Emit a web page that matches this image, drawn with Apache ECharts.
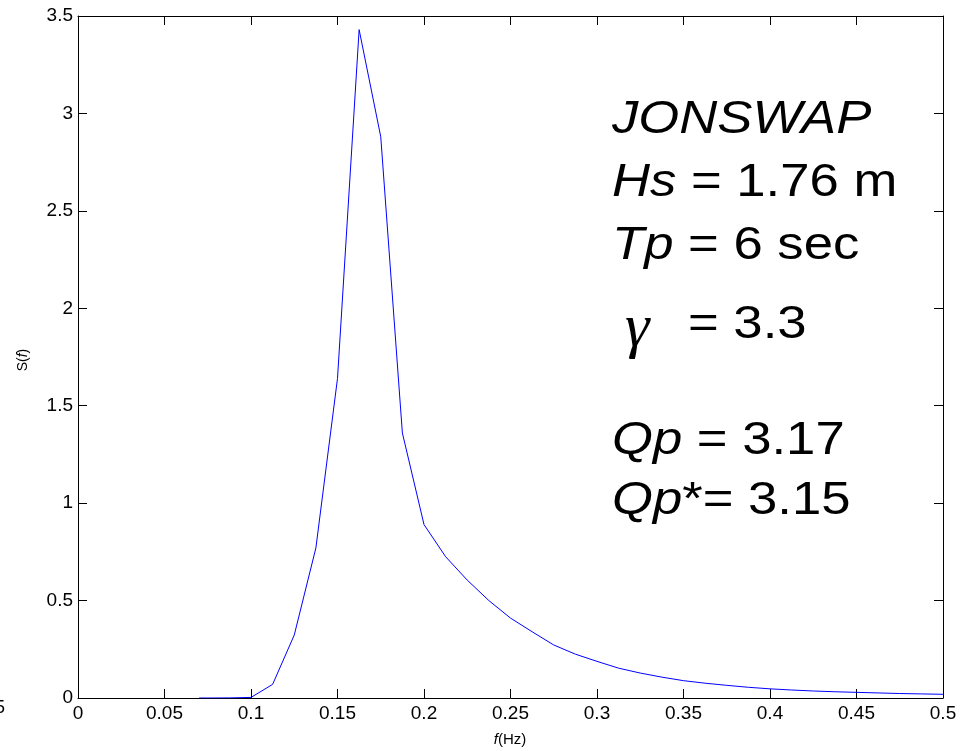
<!DOCTYPE html>
<html>
<head>
<meta charset="utf-8">
<script src="https://cdn.jsdelivr.net/npm/echarts@6/dist/echarts.min.js"></script>
<style>
html,body{margin:0;padding:0;background:#fff;}
#chart{width:971px;height:751px;}
</style>
</head>
<body>
<div id="chart"></div>
<script>
// Frequency (Hz) and spectral density S(f)
const freq = [0.07, 0.075, 0.0875, 0.1, 0.1125, 0.125, 0.1375, 0.15, 0.1625, 0.175, 0.1875, 0.2,
  0.2125, 0.225, 0.2375, 0.25, 0.2625, 0.275, 0.2875, 0.3, 0.3125, 0.325, 0.3375, 0.35,
  0.3625, 0.375, 0.3875, 0.4, 0.4125, 0.425, 0.4375, 0.45, 0.4625, 0.475, 0.4875, 0.5];
const spectrum = [0, 0, 0.0005, 0.003, 0.07, 0.323, 0.77, 1.64, 3.43, 2.88, 1.36, 0.89,
  0.725, 0.605, 0.5, 0.41, 0.34, 0.272, 0.225, 0.188, 0.153, 0.128, 0.107, 0.089,
  0.076, 0.065, 0.055, 0.047, 0.041, 0.036, 0.032, 0.029, 0.026, 0.023, 0.021, 0.019];
const xTicks = {min: 0, max: 0.5, interval: 0.05};
const yTicks = {min: 0, max: 3.5, interval: 0.5};
const annotLines = [
  {text: '{i|JONSWAP}', y: 120},
  {text: '{i|Hs} = 1.76 m', y: 183},
  {text: '{i|Tp} = 6 sec', y: 246},
  {text: '{i|Qp} = 3.17', y: 441},
  {text: '{i|Qp}*= 3.15', y: 501}
];

const FONT = '"Liberation Sans", Arial, sans-serif';
const chart = echarts.init(document.getElementById('chart'), null, {renderer: 'canvas'});
const data = freq.map((f, i) => [f, spectrum[i]]);

const axisLine = {show: true, onZero: false, lineStyle: {color: '#000', width: 1}};
const tick = {show: true, inside: true, length: 9, lineStyle: {color: '#000', width: 1}};
const label = {color: '#000', fontSize: 19, fontFamily: FONT};
const FS = 47, SX = 1.12;

const graphics = annotLines.map(l => ({
  type: 'text', x: 612, y: l.y, scaleX: SX, scaleY: 1,
  style: {
    text: l.text, fill: '#000', font: FS + 'px ' + FONT,
    verticalAlign: 'middle', align: 'left',
    rich: {i: {fontStyle: 'italic', fontSize: FS, fontFamily: FONT, fill: '#000'}}
  }
}));
graphics.push({
  type: 'text', x: 625, y: 330,
  style: {text: 'γ', fill: '#000', font: 'italic 62px "Liberation Serif", "Times New Roman", serif', verticalAlign: 'middle'}
});
graphics.push({
  type: 'text', x: 688, y: 325, scaleX: SX,
  style: {text: '= 3.3', fill: '#000', font: FS + 'px ' + FONT, verticalAlign: 'middle'}
});
graphics.push({
  type: 'text', x: 23, y: 360, rotation: Math.PI / 2,
  style: {text: 'S({i|f})', fill: '#000', font: '14px ' + FONT, align: 'center', verticalAlign: 'middle',
    rich: {i: {fontStyle: 'italic', fontSize: 14, fontFamily: FONT, fill: '#000'}}}
});
graphics.push({
  type: 'text', x: 510, y: 740,
  style: {text: '{i|f}(Hz)', fill: '#000', font: '15px ' + FONT, align: 'center', verticalAlign: 'middle',
    rich: {i: {fontStyle: 'italic', fontSize: 15, fontFamily: FONT, fill: '#000'}}}
});
graphics.push({
  type: 'text', x: -5, y: 708,
  style: {text: '5', fill: '#000', font: '18px ' + FONT, verticalAlign: 'middle'}
});

chart.setOption({
  animation: false,
  backgroundColor: '#fff',
  grid: {left: 78, right: 28, top: 16, bottom: 53, containLabel: false},
  xAxis: [
    {type: 'value', position: 'bottom', min: xTicks.min, max: xTicks.max, interval: xTicks.interval,
      axisLine, axisTick: tick, splitLine: {show: false},
      axisLabel: Object.assign({margin: 6}, label)},
    {type: 'value', position: 'top', min: xTicks.min, max: xTicks.max, interval: xTicks.interval,
      axisLine, axisTick: tick, splitLine: {show: false}, axisLabel: {show: false}}
  ],
  yAxis: [
    {type: 'value', position: 'left', min: yTicks.min, max: yTicks.max, interval: yTicks.interval,
      axisLine, axisTick: tick, splitLine: {show: false},
      axisLabel: Object.assign({margin: 5}, label)},
    {type: 'value', position: 'right', min: yTicks.min, max: yTicks.max, interval: yTicks.interval,
      axisLine, axisTick: tick, splitLine: {show: false}, axisLabel: {show: false}}
  ],
  series: [{
    type: 'line', data: data, xAxisIndex: 0, yAxisIndex: 0,
    showSymbol: false, symbol: 'none',
    lineStyle: {color: '#0000ff', width: 1}
  }],
  graphic: graphics
});
</script>
</body>
</html>
